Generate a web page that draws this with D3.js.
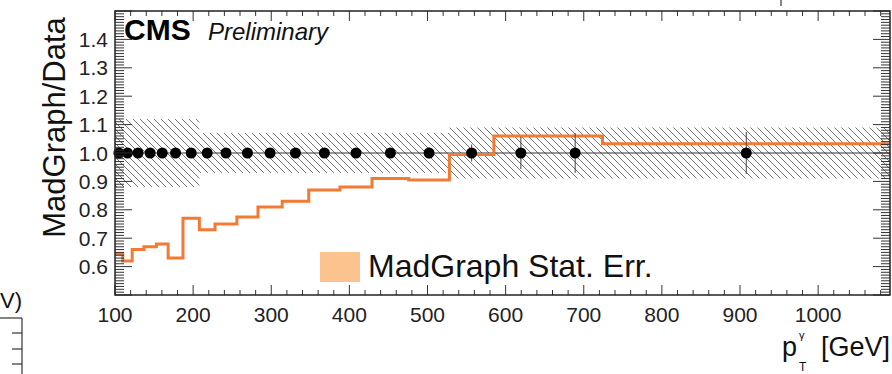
<!DOCTYPE html>
<html>
<head>
<meta charset="utf-8">
<script src="https://cdn.jsdelivr.net/npm/d3@7"></script>
<style>
  html, body { margin: 0; padding: 0; background: #fff; }
  svg { display: block; font-family: "Liberation Sans", Arial, Helvetica, sans-serif; }
</style>
</head>
<body>
<svg id="chart" width="892" height="374"></svg>
<script>
// Photon pT bin edges (GeV)
const binEdges = [100, 110, 122, 137, 153, 168, 187, 208, 228, 256, 283, 314, 348, 388, 429, 476, 528, 585, 654, 724, 1092];
// MadGraph / Data ratio per bin
const mcRatio = [0.645, 0.62, 0.66, 0.67, 0.68, 0.63, 0.77, 0.73, 0.75, 0.775, 0.81, 0.83, 0.87, 0.88, 0.91, 0.905, 0.995, 1.06, 1.06, 1.033];
// Data / Data reference points and their statistical errors
const dataRatio = [1, 1, 1, 1, 1, 1, 1, 1, 1, 1, 1, 1, 1, 1, 1, 1, 1, 1, 1, 1];
const dataStatErr = [0.01, 0.01, 0.01, 0.01, 0.01, 0.01, 0.01, 0.01, 0.01, 0.01, 0.01, 0.012, 0.012, 0.015, 0.015, 0.02, 0.03, 0.057, 0.07, 0.074];
// Data systematic uncertainty band (relative)
const systErr = [0.12, 0.12, 0.12, 0.12, 0.12, 0.12, 0.12, 0.07, 0.07, 0.07, 0.07, 0.07, 0.07, 0.07, 0.07, 0.07, 0.09, 0.09, 0.09, 0.09];
// Axis tick labels
const xTickLabels = [100, 200, 300, 400, 500, 600, 700, 800, 900, 1000];
const yTickLabels = [0.6, 0.7, 0.8, 0.9, 1.0, 1.1, 1.2, 1.3, 1.4];

const svg = d3.select("#chart");
const L = 115, R = 890, T = 11, B = 295;

const x = d3.scaleLinear().domain([100, 1092]).range([L, R]);
const y = d3.scaleLinear().domain([0.5, 1.5]).range([B, T]);

svg.append("rect").attr("width", 892).attr("height", 374).attr("fill", "#fff");

// hatch pattern for the systematic band
const defs = svg.append("defs");
const pat = defs.append("pattern").attr("id", "hatch")
  .attr("patternUnits", "userSpaceOnUse").attr("width", 7).attr("height", 7);
pat.append("path").attr("d", "M-1,-1 L8,8 M-1,6 L1,8 M6,-1 L8,1")
  .attr("stroke", "#777").attr("stroke-width", 1).attr("fill", "none");
defs.append("clipPath").attr("id", "plotClip").append("rect")
  .attr("x", L).attr("y", T).attr("width", R - L).attr("height", B - T);

const bins = mcRatio.map((v, i) => ({
  lo: binEdges[i], hi: binEdges[i + 1], mc: v,
  data: dataRatio[i], stat: dataStatErr[i], syst: systErr[i]
}));
const stepPts = bins.concat([{ ...bins[bins.length - 1], lo: binEdges[binEdges.length - 1] }]);

const plot = svg.append("g").attr("clip-path", "url(#plotClip)");

// systematic band
plot.append("path")
  .datum(stepPts)
  .attr("fill", "url(#hatch)")
  .attr("d", d3.area().curve(d3.curveStepAfter)
    .x(d => x(d.lo))
    .y0(d => y(d.data - d.syst))
    .y1(d => y(d.data + d.syst)));

// data horizontal bin-width bars
plot.selectAll("line.xerr").data(bins).join("line")
  .attr("x1", d => x(d.lo)).attr("x2", d => x(d.hi))
  .attr("y1", d => y(d.data)).attr("y2", d => y(d.data))
  .attr("stroke", "#333").attr("stroke-width", 1);

// MadGraph ratio histogram
plot.append("path")
  .datum(stepPts)
  .attr("fill", "none")
  .attr("stroke", "#f47a33")
  .attr("stroke-width", 3)
  .attr("d", d3.line().curve(d3.curveStepAfter).x(d => x(d.lo)).y(d => y(d.mc)));

// data vertical error bars and markers
svg.selectAll("line.yerr").data(bins).join("line")
  .attr("x1", d => x((d.lo + d.hi) / 2)).attr("x2", d => x((d.lo + d.hi) / 2))
  .attr("y1", d => y(d.data - d.stat)).attr("y2", d => y(d.data + d.stat))
  .attr("stroke", "#444").attr("stroke-width", 1);
svg.selectAll("circle.pt").data(bins).join("circle")
  .attr("cx", d => x((d.lo + d.hi) / 2)).attr("cy", d => y(d.data))
  .attr("r", 5.5).attr("fill", "#000");

// frame and ticks
const ax = svg.append("g").attr("stroke", "#333").attr("stroke-width", 1);
const xMinor = d3.range(100, 1092, 20);
xMinor.forEach(v => {
  const major = v % 100 === 0;
  const len = major ? 10 : 5;
  ax.append("line").attr("x1", x(v)).attr("x2", x(v)).attr("y1", B).attr("y2", B - len);
  ax.append("line").attr("x1", x(v)).attr("x2", x(v)).attr("y1", T).attr("y2", T + len);
});
const yMinor = d3.range(50, 151).map(k => k / 100);
yMinor.forEach((v, k) => {
  const major = (k % 10) === 0;
  const len = major ? 17 : 9;
  ax.append("line").attr("x1", L).attr("x2", L + len).attr("y1", y(v)).attr("y2", y(v));
  ax.append("line").attr("x1", R).attr("x2", R - len).attr("y1", y(v)).attr("y2", y(v));
});
svg.append("rect").attr("x", L).attr("y", T).attr("width", R - L).attr("height", B - T)
  .attr("fill", "none").attr("stroke", "#222").attr("stroke-width", 1.5);

// tick labels
svg.selectAll("text.xl").data(xTickLabels).join("text")
  .attr("x", d => x(d)).attr("y", 322)
  .attr("text-anchor", "middle").attr("font-size", 21).attr("fill", "#222")
  .text(d => d);
svg.selectAll("text.yl").data(yTickLabels).join("text")
  .attr("x", 108).attr("y", d => y(d)).attr("dy", "0.36em")
  .attr("text-anchor", "end").attr("font-size", 21).attr("fill", "#222")
  .text(d => d.toFixed(1));

// axis titles
svg.append("text")
  .attr("transform", `translate(65,${(T + 232) / 2 + 6}) rotate(-90)`)
  .attr("text-anchor", "middle").attr("font-size", 31).attr("fill", "#111")
  .text("MadGraph/Data");
const xt = svg.append("g").attr("fill", "#111");
xt.append("text").attr("x", 782).attr("y", 356).attr("font-size", 27).text("p");
xt.append("text").attr("x", 799).attr("y", 339).attr("font-size", 11).text("γ");
xt.append("text").attr("x", 799).attr("y", 371).attr("font-size", 12).text("T");
xt.append("text").attr("x", 890).attr("y", 356).attr("text-anchor", "end").attr("font-size", 27).text("[GeV]");

// CMS label
svg.append("text").attr("x", 124).attr("y", 40).attr("font-size", 30).attr("font-weight", "bold")
  .attr("fill", "#000").text("CMS");
svg.append("text").attr("x", 208).attr("y", 40).attr("font-size", 24).attr("font-style", "italic")
  .attr("fill", "#111").text("Preliminary");

// legend
svg.append("rect").attr("x", 320).attr("y", 252).attr("width", 40).attr("height", 30).attr("fill", "#fdc38f");
svg.append("text").attr("x", 368).attr("y", 277).attr("font-size", 32).attr("fill", "#111")
  .text("MadGraph Stat. Err.");

// neighbouring panel edge
const nb = svg.append("g").attr("stroke", "#333").attr("stroke-width", 1.2);
nb.append("line").attr("x1", 0).attr("x2", 22).attr("y1", 318).attr("y2", 318);
nb.append("line").attr("x1", 22).attr("x2", 22).attr("y1", 318).attr("y2", 374);
[333, 349, 364].forEach(v => nb.append("line").attr("x1", 12).attr("x2", 22).attr("y1", v).attr("y2", v));
nb.append("line").attr("x1", 781).attr("x2", 781).attr("y1", 0).attr("y2", 6);
svg.append("text").attr("x", 0).attr("y", 308).attr("font-size", 22).attr("fill", "#111").text("V)");
</script>
</body>
</html>
